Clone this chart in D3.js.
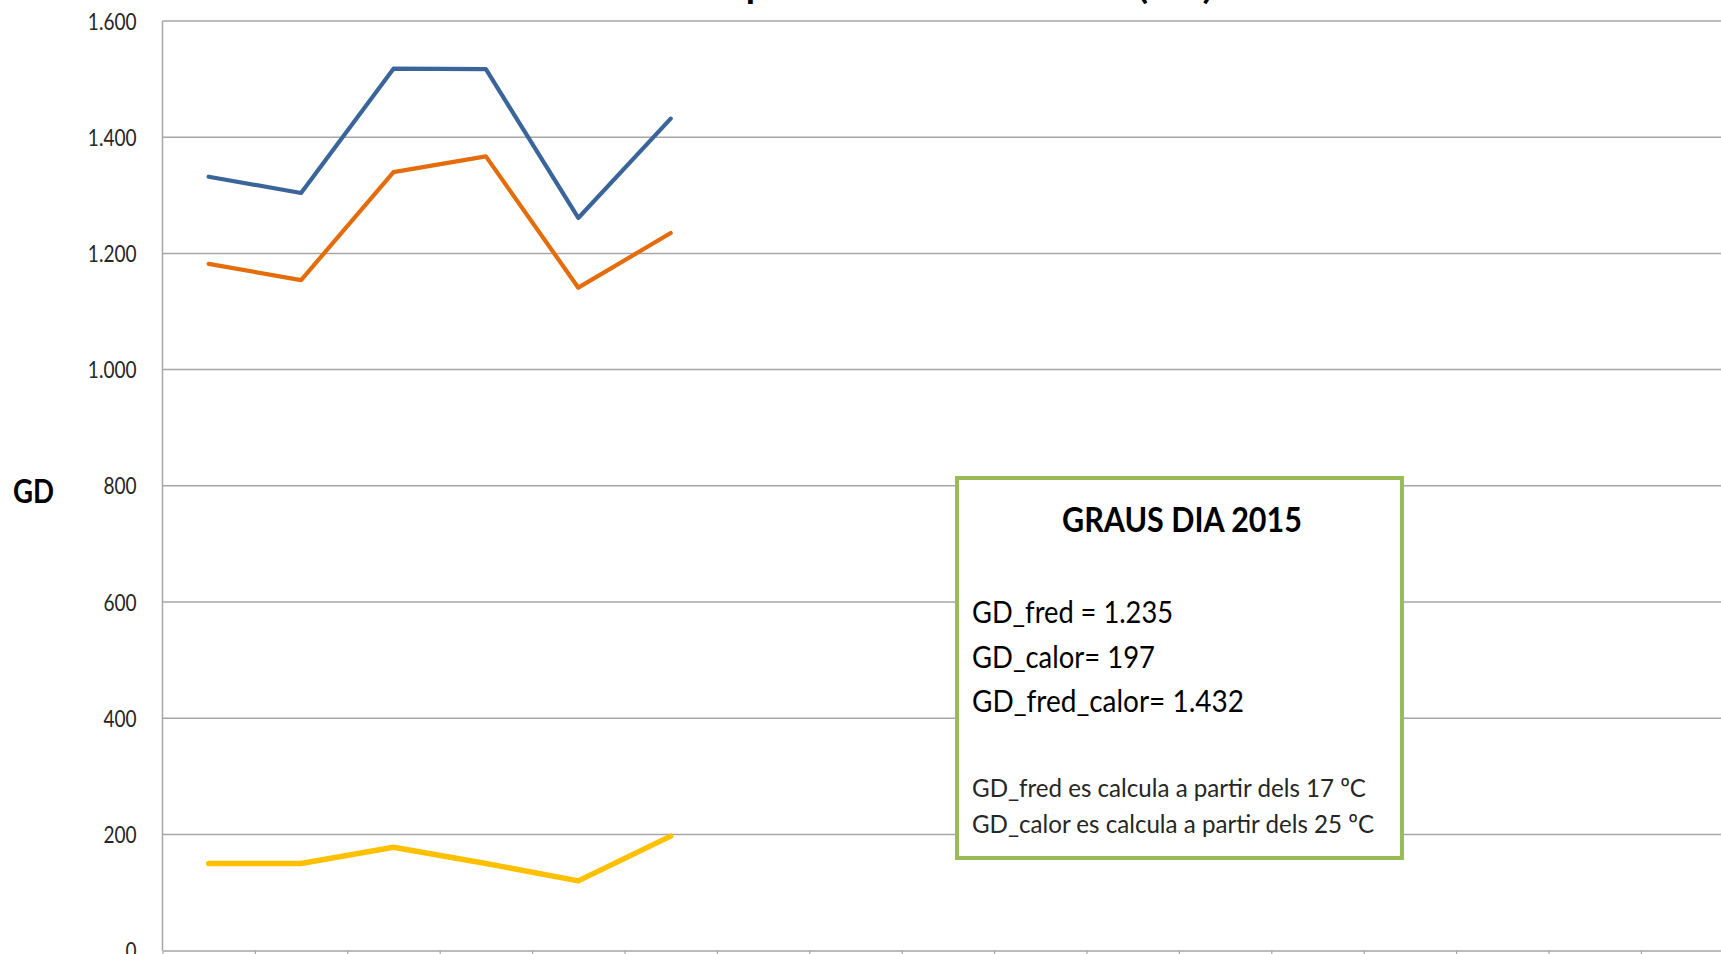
<!DOCTYPE html>
<html>
<head>
<meta charset="utf-8">
<script src="https://cdn.jsdelivr.net/npm/d3@7"></script>
<style>
  html, body { margin: 0; padding: 0; background: #fff; overflow: hidden; }
  svg { display: block; }
</style>
</head>
<body>
<svg id="chart" width="1721" height="954"></svg>
<script>
// ---------------- DATA ----------------
const categories = ["2010","2011","2012","2013","2014","2015","2016","2017","2018","2019","2020","2021","2022","2023","2024","2025","2026"];
const gdFred      = [1182, 1154, 1340, 1367, 1141, 1235];
const gdCalor     = [150, 150, 178, 150, 120, 197];
const gdFredCalor = [1332, 1304, 1518, 1517, 1261, 1432];
const yTicks = [0, 200, 400, 600, 800, 1000, 1200, 1400, 1600];
const yTickLabels = ["0", "200", "400", "600", "800", "1.000", "1.200", "1.400", "1.600"];
const titleText = "Graus dia de temperatura exterior anual (GD)";
const yAxisTitle = "GD";
const boxTitle = "GRAUS DIA 2015";
const boxLines = ["GD_fred = 1.235", "GD_calor= 197", "GD_fred_calor= 1.432"];
const boxNotes = ["GD_fred es calcula a partir dels 17 ºC", "GD_calor es calcula a partir dels 25 ºC"];

// ---------------- LAYOUT ----------------
const plotLeft = 162.5, plotTop = 21, plotBottom = 950.6, catWidth = 92.4;
const plotRight = plotLeft + categories.length * catWidth;
const FONT = "Lato, 'Open Sans', sans-serif";

const svg = d3.select("#chart");

const x = d3.scaleBand().domain(categories).range([plotLeft, plotRight]).paddingInner(0).paddingOuter(0);
const xIdx = d3.scaleLinear().domain([0, categories.length]).range([plotLeft, plotRight]);
const y = d3.scaleLinear().domain([0, 1600]).range([plotBottom, plotTop]);

// gridlines
svg.append("g")
  .selectAll("line")
  .data(yTicks.filter(v => v > 0))
  .join("line")
  .attr("x1", plotLeft).attr("x2", plotRight)
  .attr("y1", d => y(d)).attr("y2", d => y(d))
  .attr("stroke", "#a6a6a6").attr("stroke-width", 1.5);

// left axis line
svg.append("line")
  .attr("x1", plotLeft).attr("x2", plotLeft)
  .attr("y1", plotTop).attr("y2", plotBottom)
  .attr("stroke", "#a6a6a6").attr("stroke-width", 1.5);

// bottom axis with category boundary ticks
const xAxis = d3.axisBottom(xIdx)
  .tickValues(d3.range(categories.length + 1))
  .tickFormat(() => "")
  .tickSizeInner(7).tickSizeOuter(0);
const gx = svg.append("g").attr("transform", `translate(0,${plotBottom})`).call(xAxis);
gx.select(".domain").attr("stroke", "#a6a6a6").attr("stroke-width", 1.5);
gx.selectAll(".tick line").attr("stroke", "#a6a6a6").attr("stroke-width", 1.2);

// y tick labels (custom rendering to mimic the condensed look)
const tickG = svg.append("g");
yTicks.forEach((v, i) => {
  const t = tickG.append("text")
    .attr("font-family", FONT).attr("font-size", 23.5)
    .attr("fill", "#262626")
    .attr("text-anchor", "end")
    .text(yTickLabels[i]);
  t.attr("transform", `translate(136.5,${y(v) + 8.5}) scale(0.81,1)`);
});

// y axis title
svg.append("text")
  .attr("font-family", FONT).attr("font-weight", "bold").attr("font-size", 33)
  .attr("fill", "#000")
  .attr("x", 13).attr("y", 503)
  .attr("textLength", 41).attr("lengthAdjust", "spacingAndGlyphs")
  .text(yAxisTitle);

// lines
const line = d3.line()
  .x((d, i) => x(categories[i]) + x.bandwidth() / 2)
  .y(d => y(d));

const series = [
  { values: gdCalor, color: "#ffc000", width: 5.5 },
  { values: gdFred, color: "#e46c0a", width: 4.2 },
  { values: gdFredCalor, color: "#3a659b", width: 4.2 }
];
svg.append("g").selectAll("path")
  .data(series)
  .join("path")
  .attr("d", d => line(d.values))
  .attr("fill", "none")
  .attr("stroke", d => d.color)
  .attr("stroke-width", d => d.width)
  .attr("stroke-linejoin", "round")
  .attr("stroke-linecap", "round");

// title (mostly above the visible area)
const title = svg.append("text")
  .attr("font-family", FONT).attr("font-weight", "bold").attr("font-size", 32)
  .attr("fill", "#000")
  .attr("x", 0).attr("y", -1.5)
  .text(titleText);
{
  const node = title.node();
  const pi = titleText.indexOf("p");
  const oi = titleText.indexOf("(");
  const px = node.getStartPositionOfChar(pi).x;
  const ox = node.getStartPositionOfChar(oi).x;
  const sx = 392 / (ox - px);
  title.attr("transform", `translate(${1138 - ox * sx},0) scale(${sx},1)`);
}

// annotation box
const box = svg.append("g");
box.append("rect")
  .attr("x", 957).attr("y", 478).attr("width", 445).attr("height", 380)
  .attr("fill", "#fff").attr("stroke", "#9bbb59").attr("stroke-width", 4);

box.append("text")
  .attr("font-family", FONT).attr("font-weight", "bold").attr("font-size", 34.5)
  .attr("fill", "#000")
  .attr("x", 1062).attr("y", 531.7)
  .attr("textLength", 240).attr("lengthAdjust", "spacingAndGlyphs")
  .text(boxTitle);

const lineYs = [623.3, 668.3, 711.7];
const lineWs = [201, 183, 272];
boxLines.forEach((s, i) => {
  box.append("text")
    .attr("font-family", FONT).attr("font-size", 30)
    .attr("fill", "#000")
    .attr("x", 972).attr("y", lineYs[i])
    .attr("textLength", lineWs[i]).attr("lengthAdjust", "spacingAndGlyphs")
    .text(s);
});

const noteYs = [796.7, 833.3];
const noteWs = [394, 402];
boxNotes.forEach((s, i) => {
  box.append("text")
    .attr("font-family", FONT).attr("font-size", 25.5)
    .attr("fill", "#262626")
    .attr("x", 972).attr("y", noteYs[i])
    .attr("textLength", noteWs[i]).attr("lengthAdjust", "spacingAndGlyphs")
    .text(s);
});
</script>
</body>
</html>
